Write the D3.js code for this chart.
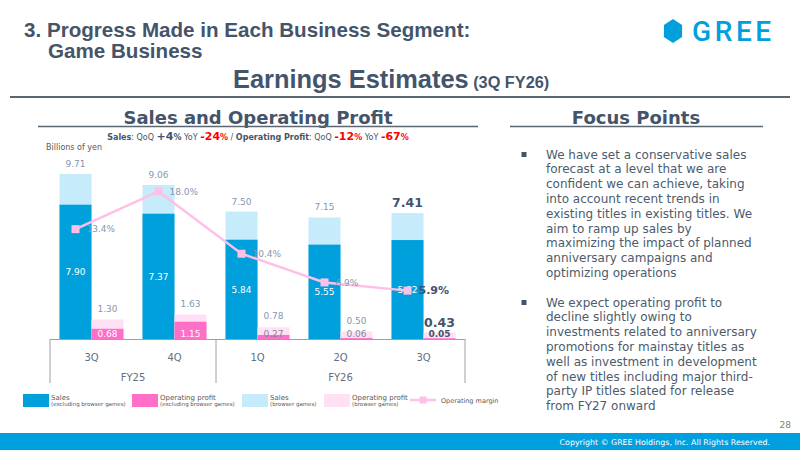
<!DOCTYPE html>
<html>
<head>
<meta charset="utf-8">
<script src="https://cdn.jsdelivr.net/npm/d3@7"></script>
<style>
  body { margin: 0; background: #fff; }
  svg { display: block; }
</style>
</head>
<body>
<div id="slide"></div>
<script>
const quarters = ["3Q", "4Q", "1Q", "2Q", "3Q"];
const fiscalYears = ["FY25", "FY26"];
const fyQuarterCount = [2, 3];
const salesExBrowser = [7.90, 7.37, 5.84, 5.55, 5.82];
const salesTotal = [9.71, 9.06, 7.50, 7.15, 7.41];
const profitExBrowser = [0.68, 1.15, 0.27, 0.06, 0.05];
const profitTotal = [1.30, 1.63, 0.78, 0.50, 0.43];
const opMargin = [13.4, 18.0, 10.4, 6.9, 5.9];

const focusPoints = [
  ["We have set a conservative sales",
   "forecast at a level that we are",
   "confident we can achieve, taking",
   "into account recent trends in",
   "existing titles in existing titles. We",
   "aim to ramp up sales by",
   "maximizing the impact of planned",
   "anniversary campaigns and",
   "optimizing operations"],
  ["We expect operating profit to",
   "decline slightly owing to",
   "investments related to anniversary",
   "promotions for mainstay titles as",
   "well as investment in development",
   "of new titles including major third-",
   "party IP titles slated for release",
   "from FY27 onward"]
];

const W = 800, H = 450;
const slate = "#44546a";
const blue = "#00a0dc", lightBlue = "#c6ecfc";
const pink = "#ff6ec7", lightPink = "#ffe0f4", lineColor = "#ffbfe7";
const labelGray = "#8497b0";
const font = "DejaVu Sans, Verdana, sans-serif";
const headFont = "Liberation Sans, Arial, sans-serif";

const svg = d3.select("#slide").append("svg")
  .attr("width", W)
  .attr("height", H)
  .style("font-family", font);

// ---- header
svg.append("text")
  .attr("x", 24).attr("y", 37)
  .style("font-family", headFont).style("font-weight", "bold")
  .style("font-size", "20.6px").style("fill", slate)
  .text("3. Progress Made in Each Business Segment:");
svg.append("text")
  .attr("x", 48).attr("y", 58)
  .style("font-family", headFont).style("font-weight", "bold")
  .style("font-size", "20.6px").style("fill", slate)
  .text("Game Business");

const title = svg.append("text")
  .attr("x", 233).attr("y", 88)
  .style("font-family", headFont).style("font-weight", "bold")
  .style("fill", slate);
title.append("tspan").style("font-size", "25.4px").text("Earnings Estimates");
title.append("tspan").style("font-size", "16.3px").text(" (3Q FY26)");

svg.append("line")
  .attr("x1", 10).attr("x2", 790).attr("y1", 97).attr("y2", 97)
  .attr("stroke", "#5b6770").attr("stroke-width", 2);

// logo
const hex = d3.range(6).map(i => {
  const a = Math.PI / 3 * i - Math.PI / 2;
  return [673 + 10.5 * Math.cos(a), 31 + 12 * Math.sin(a)];
});
svg.append("polygon")
  .attr("points", hex.map(p => p.join(",")).join(" "))
  .attr("fill", blue);
svg.append("text")
  .attr("x", 692).attr("y", 41)
  .style("font-family", "Roboto, sans-serif").style("font-weight", 500)
  .style("font-size", "28px").style("letter-spacing", "3.6px")
  .style("fill", blue)
  .text("GREE");

// ---- section headings
function sectionHead(cx, x1, x2, txt) {
  svg.append("text")
    .attr("x", cx).attr("y", 124)
    .attr("text-anchor", "middle")
    .style("font-weight", "bold").style("font-size", "18px")
    .style("fill", slate)
    .text(txt);
  svg.append("line")
    .attr("x1", x1).attr("x2", x2).attr("y1", 126.5).attr("y2", 126.5)
    .attr("stroke", "#5b6770").attr("stroke-width", 1.5);
}
sectionHead(258, 38, 478, "Sales and Operating Profit");
sectionHead(636, 510, 763, "Focus Points");

// growth summary
const summary = [
  ["Sales", 8, "bold", slate],
  [": QoQ ", 8, "normal", slate],
  ["+4", 11, "bold", slate],
  ["%", 8, "bold", slate],
  [" YoY ", 8, "normal", slate],
  ["-24", 11, "bold", "#ff0000"],
  ["%", 8, "bold", "#ff0000"],
  [" / ", 8, "normal", slate],
  ["Operating Profit", 8, "bold", slate],
  [": QoQ ", 8, "normal", slate],
  ["-12", 11, "bold", "#ff0000"],
  ["%", 8, "bold", "#ff0000"],
  [" YoY ", 8, "normal", slate],
  ["-67", 11, "bold", "#ff0000"],
  ["%", 8, "bold", "#ff0000"]
];
svg.append("text")
  .attr("x", 258).attr("y", 140)
  .attr("text-anchor", "middle")
  .selectAll("tspan")
  .data(summary)
  .join("tspan")
  .style("font-size", d => d[1] + "px")
  .style("font-weight", d => d[2])
  .style("fill", d => d[3])
  .text(d => d[0]);

svg.append("text")
  .attr("x", 46).attr("y", 150)
  .style("font-size", "8px").style("fill", "#595959")
  .text("Billions of yen");

// ---- chart
const baseY = 339;
const x = d3.scaleBand()
  .domain(d3.range(quarters.length))
  .range([50, 465])
  .paddingInner(0);
const ySales = d3.scaleLinear().domain([0, 10]).range([baseY, baseY - 170]);
const yProfit = d3.scaleLinear().domain([0, 2]).range([baseY, baseY - 30]);
const yMargin = d3.scaleLinear().domain([0, 20]).range([baseY, baseY - 164]);

const barW = 32;
const mid = i => x(i) + x.bandwidth() / 2;
const last = quarters.length - 1;

const chart = svg.append("g");

// sales bars
chart.selectAll(".sales-total")
  .data(salesTotal)
  .join("rect")
  .attr("x", (d, i) => mid(i) - barW)
  .attr("y", d => ySales(d))
  .attr("width", barW)
  .attr("height", d => baseY - ySales(d))
  .attr("fill", lightBlue);
chart.selectAll(".sales-ex")
  .data(salesExBrowser)
  .join("rect")
  .attr("x", (d, i) => mid(i) - barW)
  .attr("y", d => ySales(d))
  .attr("width", barW)
  .attr("height", d => baseY - ySales(d))
  .attr("fill", blue);

// profit bars
chart.selectAll(".profit-total")
  .data(profitTotal)
  .join("rect")
  .attr("x", (d, i) => mid(i))
  .attr("y", d => yProfit(d))
  .attr("width", barW)
  .attr("height", d => baseY - yProfit(d))
  .attr("fill", lightPink);
chart.selectAll(".profit-ex")
  .data(profitExBrowser)
  .join("rect")
  .attr("x", (d, i) => mid(i))
  .attr("y", d => yProfit(d))
  .attr("width", barW)
  .attr("height", d => baseY - yProfit(d))
  .attr("fill", pink);

// axis box with quarter / fiscal year labels
const axisG = chart.append("g").attr("stroke", "#a0a0a0").attr("stroke-width", 1);
axisG.append("line")
  .attr("x1", x.range()[0]).attr("x2", x.range()[1])
  .attr("y1", baseY + 0.5).attr("y2", baseY + 0.5);
let qi = 0;
const dividers = [0];
fyQuarterCount.forEach(n => { qi += n; dividers.push(qi); });
axisG.selectAll(".div")
  .data(dividers)
  .join("line")
  .attr("x1", d => (d < quarters.length ? x(d) : x.range()[1]))
  .attr("x2", d => (d < quarters.length ? x(d) : x.range()[1]))
  .attr("y1", baseY)
  .attr("y2", baseY + 44);

chart.selectAll(".qlabel")
  .data(quarters)
  .join("text")
  .attr("x", (d, i) => mid(i))
  .attr("y", baseY + 22)
  .attr("text-anchor", "middle")
  .style("font-size", "10px").style("fill", "#5f6f82")
  .text(d => d);

chart.selectAll(".fylabel")
  .data(fiscalYears)
  .join("text")
  .attr("x", (d, i) => {
    const a = dividers[i], b = dividers[i + 1];
    return (x(a) + (b < quarters.length ? x(b) : x.range()[1])) / 2;
  })
  .attr("y", baseY + 42)
  .attr("text-anchor", "middle")
  .style("font-size", "10px").style("fill", "#5f6f82")
  .text(d => d);

// value labels: totals above bars
chart.selectAll(".sales-total-label")
  .data(salesTotal)
  .join("text")
  .attr("x", (d, i) => mid(i) - barW / 2)
  .attr("y", (d, i) => ySales(d) - (i === last ? 6 : 7))
  .attr("text-anchor", "middle")
  .style("font-size", (d, i) => (i === last ? "12.5px" : "9px"))
  .style("font-weight", (d, i) => (i === last ? "bold" : "normal"))
  .style("fill", (d, i) => (i === last ? slate : labelGray))
  .text(d => d.toFixed(2));

chart.selectAll(".sales-ex-label")
  .data(salesExBrowser)
  .join("text")
  .attr("x", (d, i) => mid(i) - barW / 2)
  .attr("y", d => (ySales(d) + baseY) / 2)
  .attr("dy", "0.35em")
  .attr("text-anchor", "middle")
  .style("font-size", "9px").style("fill", "#fff")
  .text(d => d.toFixed(2));

chart.selectAll(".profit-total-label")
  .data(profitTotal)
  .join("text")
  .attr("x", (d, i) => mid(i) + barW / 2)
  .attr("y", (d, i) => yProfit(d) - (i === last ? 6 : 8))
  .attr("text-anchor", "middle")
  .style("font-size", (d, i) => (i === last ? "12.5px" : "9px"))
  .style("font-weight", (d, i) => (i === last ? "bold" : "normal"))
  .style("fill", (d, i) => (i === last ? slate : labelGray))
  .text(d => d.toFixed(2));

chart.selectAll(".profit-ex-label")
  .data(profitExBrowser)
  .join("text")
  .attr("x", (d, i) => mid(i) + barW / 2)
  .attr("y", baseY - 5)
  .attr("dy", "0.35em")
  .attr("text-anchor", "middle")
  .style("font-size", "9px")
  .style("font-weight", (d, i) => (i === last ? "bold" : "normal"))
  .style("fill", (d, i) => (i === last ? slate : (baseY - yProfit(d) > 8 ? "#fff" : "#7f8a96")))
  .text(d => d.toFixed(2));

// operating margin line
const line = d3.line()
  .x((d, i) => mid(i) - barW / 2)
  .y(d => yMargin(d));

chart.append("path")
  .datum(opMargin)
  .attr("fill", "none")
  .attr("stroke", lineColor)
  .attr("stroke-width", 2.5)
  .attr("d", line);

chart.selectAll(".margin-pt")
  .data(opMargin)
  .join("rect")
  .attr("x", (d, i) => mid(i) - barW / 2 - 4)
  .attr("y", d => yMargin(d) - 4)
  .attr("width", 8)
  .attr("height", 8)
  .attr("fill", lineColor);

chart.selectAll(".margin-label")
  .data(opMargin)
  .join("text")
  .attr("x", (d, i) => mid(i) - barW / 2 + 11)
  .attr("y", d => yMargin(d))
  .attr("dy", "0.35em")
  .style("font-size", (d, i) => (i === last ? "11px" : "9px"))
  .style("font-weight", (d, i) => (i === last ? "bold" : "normal"))
  .style("fill", (d, i) => (i === last ? slate : labelGray))
  .text(d => d.toFixed(1) + "%");

// ---- legend
const legendItems = [
  { x: 23, kind: "rect", color: blue, main: "Sales", sub: "(excluding browser games)" },
  { x: 132, kind: "rect", color: pink, main: "Operating profit", sub: "(excluding browser games)" },
  { x: 242, kind: "rect", color: lightBlue, main: "Sales", sub: "(browser games)" },
  { x: 324, kind: "rect", color: lightPink, main: "Operating profit", sub: "(browser games)" },
  { x: 410, kind: "line", color: lineColor, main: "Operating margin" }
];
const legend = svg.append("g");
legendItems.forEach(it => {
  const g = legend.append("g").attr("transform", `translate(${it.x},394)`);
  if (it.kind === "rect") {
    g.append("rect").attr("width", 26).attr("height", 13).attr("fill", it.color);
    g.append("text").attr("x", 28).attr("y", 5.5)
      .style("font-size", "7px").style("fill", "#595959").text(it.main);
    g.append("text").attr("x", 28).attr("y", 12)
      .style("font-size", "5.5px").style("fill", "#595959").text(it.sub);
  } else {
    g.append("line").attr("x1", 0).attr("x2", 26).attr("y1", 6).attr("y2", 6)
      .attr("stroke", it.color).attr("stroke-width", 2.5);
    g.append("rect").attr("x", 9.5).attr("y", 2.5).attr("width", 7).attr("height", 7)
      .attr("fill", it.color);
    g.append("text").attr("x", 31).attr("y", 8.5)
      .style("font-size", "6.5px").style("fill", "#595959").text(it.main);
  }
});

// ---- focus points
const fp = svg.append("g");
let ty = 158.5;
focusPoints.forEach(par => {
  fp.append("rect")
    .attr("x", 521.5).attr("y", ty - 6.5)
    .attr("width", 5).attr("height", 5)
    .attr("fill", slate);
  par.forEach(row => {
    fp.append("text")
      .attr("x", 546).attr("y", ty)
      .style("font-size", "12px").style("fill", "#4d5b6c")
      .text(row);
    ty += 14.8;
  });
  ty += 14.8;
});

// ---- footer
svg.append("text")
  .attr("x", 791).attr("y", 428)
  .attr("text-anchor", "end")
  .style("font-size", "9px").style("fill", "#7f7f7f")
  .text("28");
svg.append("rect")
  .attr("x", 0).attr("y", 433).attr("width", W).attr("height", 17)
  .attr("fill", "#009fdf");
svg.append("text")
  .attr("x", 770).attr("y", 444.5)
  .attr("text-anchor", "end")
  .style("font-size", "7.9px").style("fill", "#fff")
  .text("Copyright © GREE Holdings, Inc. All Rights Reserved.");
</script>
</body>
</html>
